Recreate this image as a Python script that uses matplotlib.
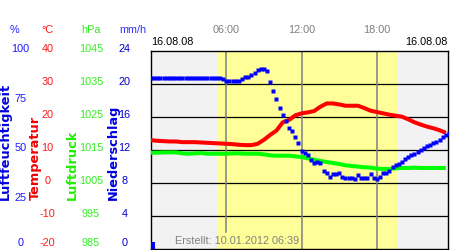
import numpy as np
import matplotlib
matplotlib.use("Agg")
import matplotlib.pyplot as plt
from matplotlib.transforms import offset_copy

# ---------------- data ----------------
# humidity (%), 15-minute steps from 00:00
hum_values = [85.9] * 23 + [
    85.4, 84.5, 84.5, 84.5, 84.5, 84.5, 85.4, 86.5, 86.5, 87.7, 88.7,
    90.0, 90.7, 90.7, 89.5, 84.3, 79.5, 75.7, 71.0, 67.3, 64.5, 61.1,
    59.5, 56.5, 53.5, 49.5, 48.3, 47.5, 45.0, 43.3, 44.0, 43.5, 39.5,
    38.2, 36.2, 37.7, 38.0, 38.2, 36.2, 36.0, 36.0, 36.0, 35.5, 37.4,
    35.7, 36.0, 36.0, 37.7, 36.0, 35.2, 36.5, 38.5, 38.5, 39.4, 41.5,
    42.5, 43.0, 44.0, 45.5, 46.5, 47.3, 48.0, 49.0, 50.0, 50.7, 51.7,
    52.5, 53.2, 54.0, 55.0, 56.2, 57.5, 58.5]
hum_times = [i * 0.25 for i in range(len(hum_values))]

# temperature (°C), 30-minute steps
temp_values = [12.9, 12.7, 12.6, 12.5, 12.5, 12.3, 12.3, 12.3, 12.2, 12.1,
               12.0, 11.9, 11.8, 11.7, 11.5, 11.4, 11.4, 11.8, 13.0, 14.5,
               15.8, 18.3, 19.0, 20.4, 21.0, 21.3, 21.7, 23.0, 24.0, 24.0,
               23.7, 23.3, 23.3, 23.3, 22.6, 21.8, 21.4, 21.0, 20.6, 20.3,
               20.0, 19.2, 18.3, 17.6, 17.0, 16.5, 15.9, 15.1]
temp_times = [i * 0.5 for i in range(len(temp_values))]

# air pressure (hPa), 30-minute steps
pres_values = [1014.1, 1014.1, 1014.2, 1014.2, 1014.2, 1013.9, 1013.8, 1013.9,
               1014.0, 1013.8, 1013.8, 1013.8, 1013.8, 1013.9, 1013.9, 1013.8,
               1013.8, 1013.8, 1013.6, 1013.3, 1013.2, 1013.2, 1013.2, 1013.0,
               1012.8, 1012.4, 1012.0, 1011.6, 1011.3, 1011.0, 1010.7, 1010.3,
               1010.1, 1009.9, 1009.7, 1009.6, 1009.3, 1009.2, 1009.2, 1009.4,
               1009.5, 1009.5, 1009.6, 1009.5, 1009.5, 1009.5, 1009.5, 1009.5]
pres_times = [i * 0.5 for i in range(len(pres_values))]

# precipitation (mm/h)
rain_times = [0.0]
rain_values = [0.85]

hum_ticks = [0, 25, 50, 75, 100]
temp_ticks = [-20, -10, 0, 10, 20, 30, 40]
pres_ticks = [985, 995, 1005, 1015, 1025, 1035, 1045]
rain_ticks = [0, 4, 8, 12, 16, 20, 24]

time_ticks = [6, 12, 18]
time_labels = ["06:00", "12:00", "18:00"]
daylight = (5.3, 19.66)
date_label = "16.08.08"
created_label = "Erstellt: 10.01.2012 06:39"

# ---------------- figure ----------------
W, H = 450, 250
fig = plt.figure(figsize=(W / 100, H / 100), dpi=100)
fig.patch.set_facecolor("white")
FONT = "Liberation Sans"
FS = 7.8

ax = fig.add_axes([151 / W, 1 / H, 297 / W, 198.5 / H])
ax.set_xlim(0, 23.67)
ax.set_ylim(0, 100)
ax.set_facecolor("#f2f2f2")
ax.axvspan(daylight[0], daylight[1], color="#ffff99", lw=0, zorder=0)
for v in np.linspace(0, 100, 7)[1:-1]:
    ax.axhline(v, color="black", lw=0.9, zorder=1)
for i, t in enumerate(time_ticks):
    ax.axvline(t, ymin=0.085 if i == 0 else 0, color="#808080", lw=1.1, zorder=1)
for s in ax.spines.values():
    s.set_color("black")
    s.set_linewidth(1.0)
ax.set_xticks([])
ax.set_yticks([])

ax_p = ax.twinx()
ax_t = ax.twinx()
ax_r = ax.twinx()
ax_h = ax.twinx()
for a, lim in [(ax_p, (985, 1045)), (ax_t, (-20, 40)), (ax_r, (0, 24)), (ax_h, (0, 100))]:
    a.set_ylim(*lim)
    a.set_xlim(0, 23.67)
    a.set_yticks([])
    a.set_xticks([])
    for s in a.spines.values():
        s.set_visible(False)

ax_p.plot(pres_times, pres_values, color="#00ff00", lw=2.9, solid_capstyle="butt", zorder=3)
ax_t.plot(temp_times, temp_values, color="#ff0000", lw=2.9, solid_capstyle="butt", zorder=3)
ax_r.bar(rain_times, rain_values, width=0.3, align="edge", color="#0000ff", zorder=3)
ax_h.plot(hum_times, hum_values, ls="none", marker="s", ms=3.0, mec="none",
          color="#0000ff", zorder=4)

# ---------------- tick labels (left) ----------------
def px_to_axes(xpx):
    return (xpx - 151) / 297.0

def left_labels(a, ticks, xc, color):
    for k, v in enumerate(ticks):
        dy = 6 if k == 0 else 1.5
        tr = offset_copy(a.get_yaxis_transform(), fig=fig, x=0, y=dy, units="dots")
        a.text(px_to_axes(xc), v, str(v), transform=tr, ha="center", va="center",
               color=color, fontsize=FS, family=FONT, clip_on=False)

left_labels(ax_h, hum_ticks, 20.5, "#1a1aff")
left_labels(ax_t, temp_ticks, 47.5, "#ff1a1a")
left_labels(ax_p, pres_ticks, 91, "#33ee22")
left_labels(ax_r, rain_ticks, 124.5, "#0000cc")

def fig_text(xpx, ypx, s, **kw):
    fig.text(xpx / W, 1 - ypx / H, s, fontsize=kw.pop("fontsize", FS), family=kw.pop("family", FONT), **kw)

fig_text(14, 30, "%", color="#2020ff", ha="center", va="center")
fig_text(47, 30, "°C", color="#ff1a1a", ha="center", va="center")
fig_text(90.5, 30, "hPa", color="#33ee22", ha="center", va="center")
fig_text(132.5, 30, "mm/h", color="#3333ff", ha="center", va="center")

# rotated axis titles
for xc, s, col in [(5.3, "Luftfeuchtigkeit", "#0000dd"), (35, "Temperatur", "#ee0000"),
                   (72.5, "Luftdruck", "#22ee00"), (113, "Niederschlag", "#0000dd")]:
    fig.text(xc / W, 1 - 200 / H, s, rotation=90, ha="center", va="bottom",
             color=col, fontsize=9.3, family="DejaVu Sans", fontweight="bold")

# time labels on top
for t, lab in zip(time_ticks, time_labels):
    ax.text(t, 1.0, lab, transform=offset_copy(ax.get_xaxis_transform(), fig=fig, x=0, y=20.5, units="dots"),
            ha="center", va="center", color="#808080", fontsize=FS, family=FONT, clip_on=False)

fig_text(151, 42, date_label, color="black", ha="left", va="center")
fig_text(448, 42, date_label, color="black", ha="right", va="center")
fig_text(175, 241, created_label, color="#808080", ha="left", va="center")

fig.savefig("out.png", dpi=100)
